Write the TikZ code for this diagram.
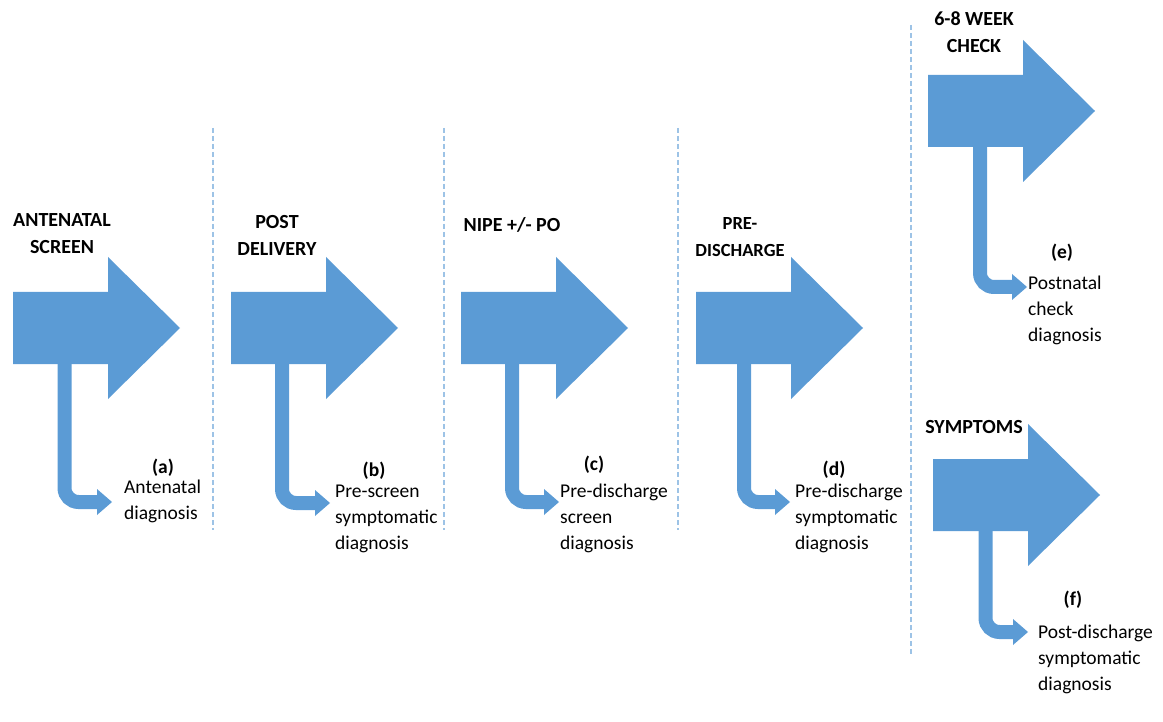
\documentclass[tikz,border=0pt]{standalone}
\usepackage{fontspec}
\setmainfont{Carlito}
\definecolor{arrowblue}{RGB}{91,155,213}
\definecolor{sepblue}{RGB}{157,195,230}

\begin{document}
\begin{tikzpicture}[x=1pt,y=-1pt]
\tikzset{stage/.style={fill=arrowblue},
  branch/.style={draw=arrowblue, line width=14pt, rounded corners=14pt},
  tiphead/.style={fill=arrowblue},
  sepline/.style={draw=sepblue, line width=1.2pt, dash pattern=on 5pt off 3pt},
  title/.style={font=\bfseries\fontsize{20}{27}\selectfont, align=center, inner sep=0},
  tag/.style={font=\bfseries\fontsize{19.5}{26}\selectfont, inner sep=0},
  outcome/.style={font=\fontsize{19.5}{26}\selectfont, align=left, anchor=north west, inner sep=0}}
\useasboundingbox (0,0) rectangle (1163,722);
% separators
\draw[sepline] (213,128) -- (213,530);
\draw[sepline] (444,128) -- (444,530);
\draw[sepline] (678,128) -- (678,530);
\draw[sepline] (911,25) -- (911,655);
% stage arrows
\fill[stage] (13,292) -- ++(95,0) -- ++(0,-35) -- ++(72,71) -- ++(-72,71) -- ++(0,-35) -- ++(-95,0) -- cycle;
\fill[stage] (231,292) -- ++(95,0) -- ++(0,-35) -- ++(72,71) -- ++(-72,71) -- ++(0,-35) -- ++(-95,0) -- cycle;
\fill[stage] (461,292) -- ++(95,0) -- ++(0,-35) -- ++(72,71) -- ++(-72,71) -- ++(0,-35) -- ++(-95,0) -- cycle;
\fill[stage] (696,292) -- ++(95,0) -- ++(0,-35) -- ++(72,71) -- ++(-72,71) -- ++(0,-35) -- ++(-95,0) -- cycle;
\fill[stage] (928,75) -- ++(95,0) -- ++(0,-35) -- ++(72,71) -- ++(-72,71) -- ++(0,-35) -- ++(-95,0) -- cycle;
\fill[stage] (933,459) -- ++(95,0) -- ++(0,-35) -- ++(72,71) -- ++(-72,71) -- ++(0,-35) -- ++(-95,0) -- cycle;
% stage titles
\node[title] (antenatal) at (62,234) {ANTENATAL\\SCREEN};
\node[title] (delivery) at (277,235) {POST\\DELIVERY};
\node[title] (nipe) at (512,225) {NIPE +/- PO};
\node[title, font=\bfseries\fontsize{18.5}{27}\selectfont] (predischarge) at (740,237) {PRE-\\DISCHARGE};
\node[title] (weekcheck) at (974,32) {6-8 WEEK\\CHECK};
\node[title] (symptoms) at (974,427) {SYMPTOMS};
% outcomes
\node[tag] (tagA) at (163,468) {(a)};
\node[tag] (tagB) at (374,471) {(b)};
\node[tag] (tagC) at (594,465) {(c)};
\node[tag] (tagD) at (834,470) {(d)};
\node[tag] (tagE) at (1062,253) {(e)};
\node[tag] (tagF) at (1073,600) {(f)};
\node[outcome] (outA) at (124,480) {Antenatal\\diagnosis};
\node[outcome] (outB) at (335,485) {Pre-screen\\symptomatic\\diagnosis};
\node[outcome] (outC) at (560,484) {Pre-discharge\\screen\\diagnosis};
\node[outcome] (outD) at (795,484) {Pre-discharge\\symptomatic\\diagnosis};
\node[outcome] (outE) at (1028,276) {Postnatal\\check\\diagnosis};
\node[outcome] (outF) at (1038,625) {Post-discharge\\symptomatic\\diagnosis};
% branches
\coordinate (stemA) at (64.5,340);
\coordinate (stemB) at (282,340);
\coordinate (stemC) at (512,340);
\coordinate (stemD) at (744,340);
\coordinate (stemE) at (980,120);
\coordinate (stemF) at (985.5,500);
\coordinate (tipA) at (97,502);
\coordinate (tipB) at (315,503);
\coordinate (tipC) at (544,502);
\coordinate (tipD) at (775,502);
\coordinate (tipE) at (1012,287);
\coordinate (tipF) at (1013,632);
\draw[branch] (stemA) |- ([xshift=1pt]tipA);
\draw[branch] (stemB) |- ([xshift=1pt]tipB);
\draw[branch] (stemC) |- ([xshift=1pt]tipC);
\draw[branch] (stemD) |- ([xshift=1pt]tipD);
\draw[branch] (stemE) |- ([xshift=1pt]tipE);
\draw[branch] (stemF) |- ([xshift=1pt]tipF);
\fill[tiphead] (tipA) ++(0,-13) -- ++(15,13) -- ++(-15,13) -- cycle;
\fill[tiphead] (tipB) ++(0,-13) -- ++(15,13) -- ++(-15,13) -- cycle;
\fill[tiphead] (tipC) ++(0,-13) -- ++(15,13) -- ++(-15,13) -- cycle;
\fill[tiphead] (tipD) ++(0,-13) -- ++(15,13) -- ++(-15,13) -- cycle;
\fill[tiphead] (tipE) ++(0,-13) -- ++(15,13) -- ++(-15,13) -- cycle;
\fill[tiphead] (tipF) ++(0,-13) -- ++(15,13) -- ++(-15,13) -- cycle;
\end{tikzpicture}
\end{document}
